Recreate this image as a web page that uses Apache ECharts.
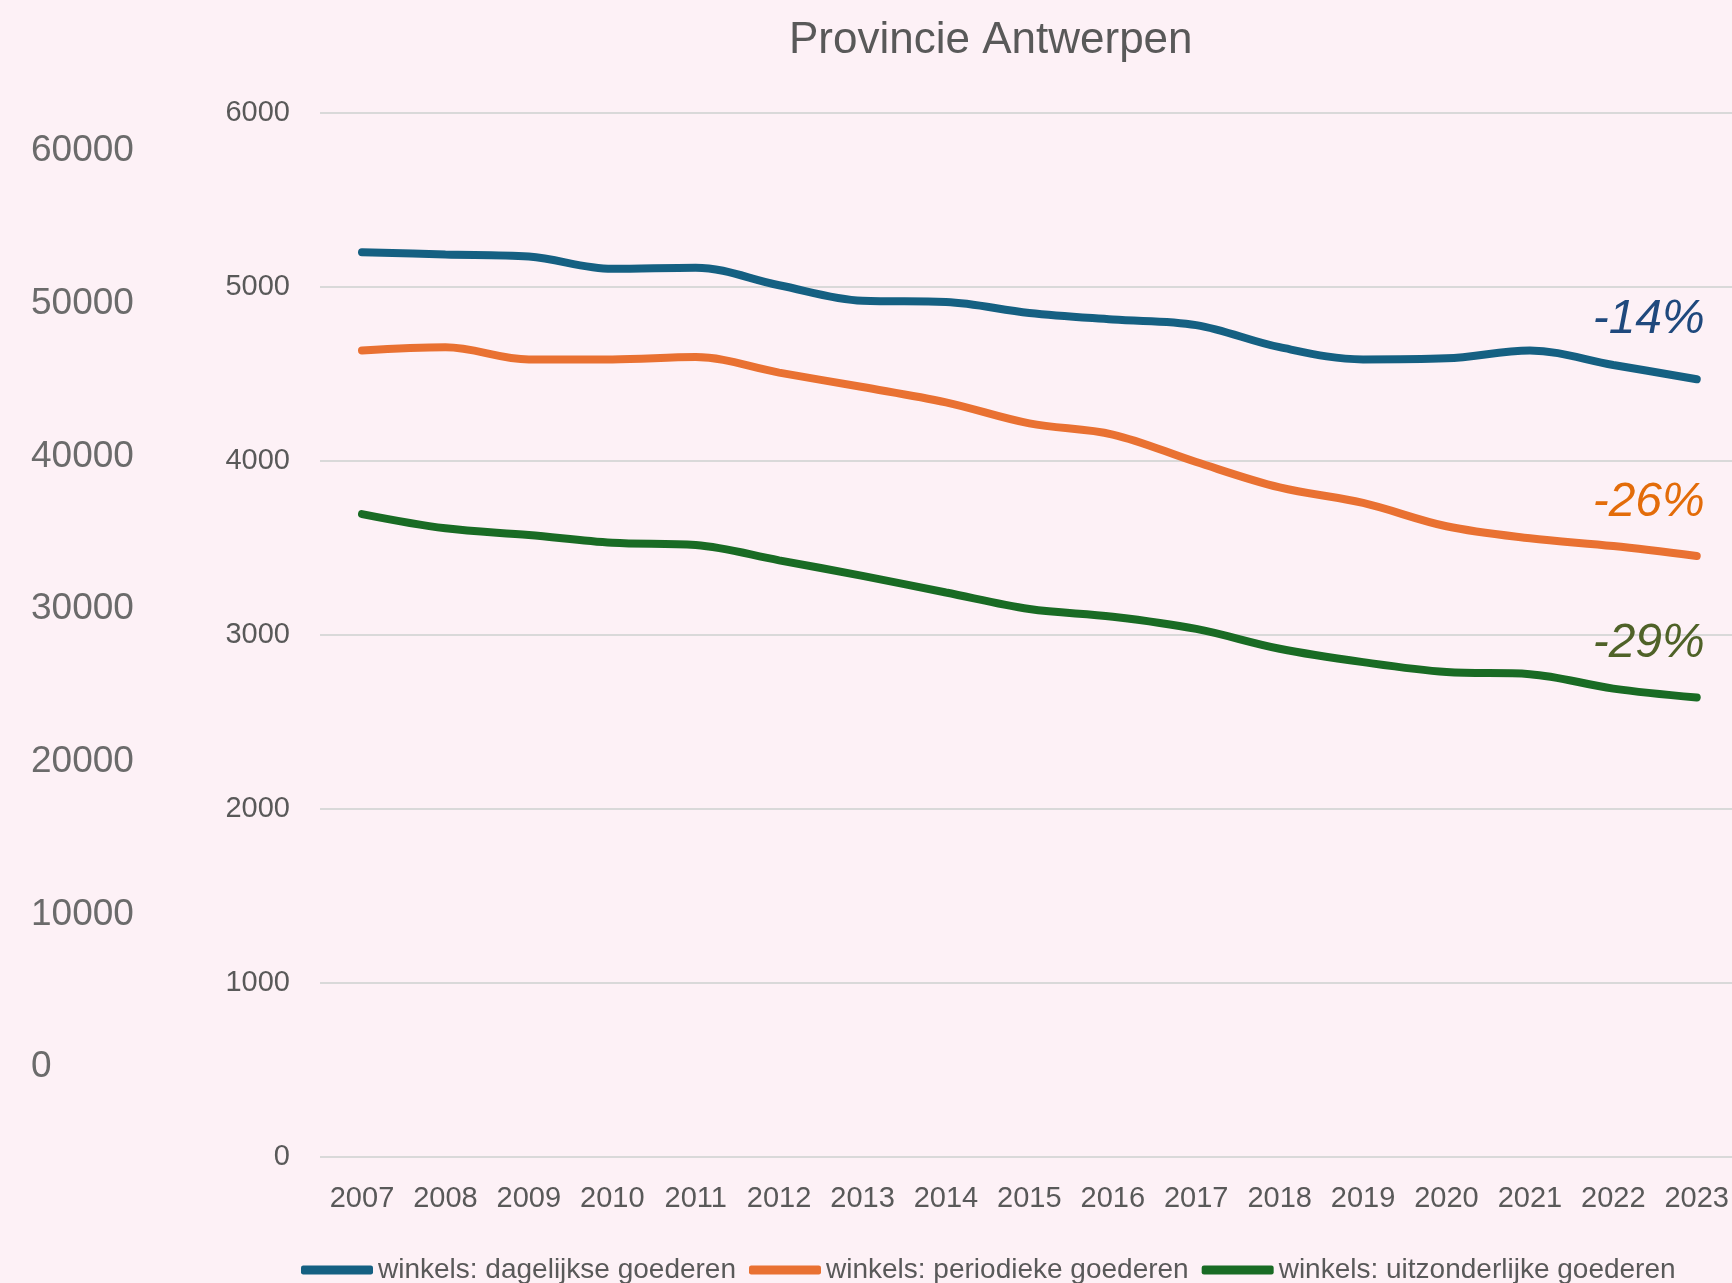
<!DOCTYPE html>
<html>
<head>
<meta charset="utf-8">
<script src="https://cdn.jsdelivr.net/npm/echarts@6/dist/echarts.min.js"></script>
<style>
  html, body { margin: 0; padding: 0; background: #fdf1f6; }
  #chart { width: 1732px; height: 1283px; }
</style>
</head>
<body>
<div id="chart"></div>
<script>
const years = ['2007', '2008', '2009', '2010', '2011', '2012', '2013', '2014', '2015',
  '2016', '2017', '2018', '2019', '2020', '2021', '2022', '2023'];

const dagelijks = [5200, 5187, 5175, 5105, 5111, 5010, 4921, 4914, 4851, 4813, 4781,
  4654, 4584, 4590, 4635, 4552, 4470];
const periodiek = [4635, 4654, 4584, 4584, 4597, 4508, 4425, 4337, 4216, 4152, 3994,
  3848, 3759, 3625, 3556, 3511, 3454];
const uitzonderlijk = [3695, 3613, 3575, 3530, 3517, 3429, 3340, 3244, 3149, 3105, 3035,
  2921, 2844, 2787, 2775, 2692, 2641];

const seriesNames = ['winkels: dagelijkse goederen', 'winkels: periodieke goederen',
  'winkels: uitzonderlijke goederen'];
const changeLabels = ['-14%', '-26%', '-29%'];

const colors = ['#156082', '#e97132', '#196b24'];
const labelColors = ['#1f497d', '#e36c09', '#4f6228'];
const labelOffsetY = [-60, -53, -54];

const font = "'Liberation Sans', Arial, sans-serif";
const textGrey = '#595959';

const chart = echarts.init(document.getElementById('chart'));
window.addEventListener('resize', function () {
  chart.resize();
});

// lines live in grid 1 (points from 2007 to 2023 edge to edge)
const makeLine = (name, data, i) => ({
  name: name,
  type: 'line',
  data: data,
  xAxisIndex: 1,
  yAxisIndex: 1,
  smooth: 0.35,
  symbol: 'none',
  lineStyle: { width: 8, color: colors[i], cap: 'round' },
  itemStyle: { color: colors[i] },
  endLabel: {
    show: true,
    formatter: changeLabels[i],
    align: 'right',
    offset: [0, labelOffsetY[i]],
    color: labelColors[i],
    fontSize: 48,
    fontStyle: 'italic',
    fontFamily: font
  },
  emphasis: { disabled: true }
});

const plain = (v) => String(v);

const option = {
  backgroundColor: '#fdf1f6',
  animation: false,
  title: {
    text: 'Provincie Antwerpen',
    left: 784,
    top: 14,
    textStyle: { fontSize: 44, fontWeight: 'normal', color: textGrey, fontFamily: font }
  },
  legend: {
    left: 296,
    top: 1251,
    itemWidth: 72,
    itemHeight: 9,
    itemGap: 13,
    icon: 'roundRect',
    data: seriesNames,
    textStyle: { fontSize: 28, color: textGrey, fontFamily: font }
  },
  grid: [
    // gridlines + left value labels
    { left: 320, right: 0, top: 113, bottom: 126 },
    // data area
    { left: 362, right: 22, top: 113, bottom: 126 },
    // outer scale 0 - 60000
    { left: 31, width: 1, top: 151, bottom: 216 }
  ],
  xAxis: [
    { type: 'value', gridIndex: 0, show: false },
    {
      type: 'category',
      gridIndex: 1,
      data: years,
      boundaryGap: false,
      axisLine: { show: false },
      axisTick: { show: false },
      splitLine: { show: false },
      axisLabel: { interval: 0, margin: 27, fontSize: 29, color: textGrey, fontFamily: font }
    },
    { type: 'value', gridIndex: 2, show: false }
  ],
  yAxis: [
    {
      type: 'value',
      gridIndex: 0,
      min: 0,
      max: 6000,
      interval: 1000,
      axisLine: { show: false },
      axisTick: { show: false },
      splitLine: { lineStyle: { color: '#d9d9d9', width: 2 } },
      axisLabel: { margin: 30, fontSize: 29, color: textGrey, fontFamily: font, formatter: plain }
    },
    {
      type: 'value',
      gridIndex: 1,
      min: 0,
      max: 6000,
      show: false
    },
    {
      type: 'value',
      gridIndex: 2,
      min: 0,
      max: 60000,
      interval: 10000,
      axisLine: { show: false },
      axisTick: { show: false },
      splitLine: { show: false },
      axisLabel: { margin: 0, align: 'left', fontSize: 37, color: '#6b6b6b', fontFamily: font, formatter: plain }
    }
  ],
  series: [
    makeLine(seriesNames[0], dagelijks, 0),
    makeLine(seriesNames[1], periodiek, 1),
    makeLine(seriesNames[2], uitzonderlijk, 2)
  ]
};

option && chart.setOption(option);
</script>
</body>
</html>
